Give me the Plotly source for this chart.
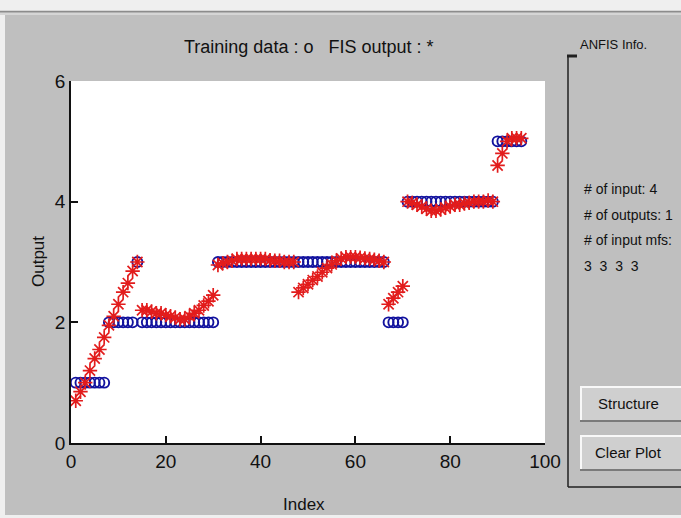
import plotly.graph_objects as go

# ---- data ----
index = list(range(1, 96))
training = ([1] * 7 + [2] * 6 + [3] * 1 + [2] * 16 + [3] * 36 + [2] * 4 + [4] * 19 + [5] * 6)
fis_output = [
    0.70, 0.85, 1.00, 1.20, 1.40, 1.55, 1.75, 1.95, 2.10, 2.30, 2.50, 2.65, 2.85, 3.00,
    2.20, 2.20, 2.18, 2.15, 2.15, 2.12, 2.10, 2.08, 2.05, 2.05, 2.10, 2.15, 2.20, 2.28, 2.35, 2.45,
    2.95, 2.98, 3.00, 3.02, 3.05, 3.05, 3.05, 3.05, 3.05, 3.05, 3.05, 3.03, 3.02, 3.02, 3.00, 3.00, 3.00,
    2.50, 2.57, 2.63, 2.70, 2.76, 2.83, 2.90, 2.96, 3.02, 3.06,
    3.08, 3.08, 3.08, 3.07, 3.06, 3.05, 3.04, 3.02, 3.00,
    2.30, 2.40, 2.50, 2.60,
    4.00, 3.98, 3.95, 3.92, 3.88, 3.85, 3.85, 3.87, 3.90, 3.92, 3.95, 3.95, 3.97, 3.98, 4.00, 4.00, 4.00, 4.02, 4.00,
    4.60, 4.80, 5.00, 5.05, 5.05, 5.05,
]
x_ticks = [0, 20, 40, 60, 80, 100]
y_ticks = [0, 2, 4, 6]
info_lines = ["# of input: 4", "# of outputs: 1", "# of input mfs:", "3  3  3  3"]
buttons = ["Structure", "Clear Plot"]

W, H = 681, 518
L, R, T, B = 71, 545, 81, 443
FONT = "Liberation Sans, Arial, sans-serif"
GRAY = "#bfbfbf"


def px(xp):
    return (xp - L) / (R - L)


def py(yp):
    return (B - yp) / (B - T)


fig = go.Figure()
fig.add_trace(go.Scatter(
    x=index, y=training, mode="markers", name="Training data",
    marker=dict(symbol="circle-open", size=10, color="#12129e", line=dict(width=1.9, color="#12129e")),
))
fig.add_trace(go.Scatter(
    x=index, y=fis_output, mode="markers", name="FIS output",
    marker=dict(symbol="asterisk-open", size=12, color="#e21c1c", line=dict(width=1.7, color="#e21c1c")),
))

shapes = []
# top light strip and separator
shapes.append(dict(type="rect", xref="paper", yref="paper", x0=px(0), x1=px(W), y0=py(12), y1=py(0),
                   fillcolor="#efefef", line=dict(width=0), layer="below"))
shapes.append(dict(type="line", xref="paper", yref="paper", x0=px(0), x1=px(W), y0=py(11.5), y1=py(11.5),
                   line=dict(color="#8c8c8c", width=1.5)))
shapes.append(dict(type="line", xref="paper", yref="paper", x0=px(0), x1=px(W), y0=py(14), y1=py(14),
                   line=dict(color="#dcdcdc", width=1.5)))
shapes.append(dict(type="rect", xref="paper", yref="paper", x0=px(0), x1=px(5), y0=py(H), y1=py(15),
                   fillcolor="#efefef", line=dict(width=0), layer="below"))
shapes.append(dict(type="rect", xref="paper", yref="paper", x0=px(0), x1=px(W), y0=py(H), y1=py(515),
                   fillcolor="#efefef", line=dict(width=0), layer="below"))
# ANFIS info frame
shapes.append(dict(type="line", xref="paper", yref="paper", x0=px(568), x1=px(568), y0=py(56), y1=py(487),
                   line=dict(color="#202020", width=1.5)))
shapes.append(dict(type="line", xref="paper", yref="paper", x0=px(567), x1=px(577), y0=py(56), y1=py(56),
                   line=dict(color="#202020", width=3)))
shapes.append(dict(type="line", xref="paper", yref="paper", x0=px(568), x1=px(W), y0=py(487), y1=py(487),
                   line=dict(color="#202020", width=1.5)))
# buttons
for (top, bot) in [(386, 421), (435, 470)]:
    shapes.append(dict(type="rect", xref="paper", yref="paper", x0=px(580), x1=px(W + 5), y0=py(bot), y1=py(top),
                       fillcolor="#cfcfcf", line=dict(width=0)))
    shapes.append(dict(type="line", xref="paper", yref="paper", x0=px(580), x1=px(W), y0=py(top + 1), y1=py(top + 1),
                       line=dict(color="#f8f8f8", width=2)))
    shapes.append(dict(type="line", xref="paper", yref="paper", x0=px(581), x1=px(581), y0=py(bot), y1=py(top),
                       line=dict(color="#f8f8f8", width=2)))
    shapes.append(dict(type="line", xref="paper", yref="paper", x0=px(580), x1=px(W), y0=py(bot), y1=py(bot),
                       line=dict(color="#7a7a7a", width=2)))

annotations = []
annotations.append(dict(text="Training data : o   FIS output : *", xref="paper", yref="paper",
                        x=px(308), y=py(47), showarrow=False, xanchor="center", yanchor="middle",
                        font=dict(family=FONT, size=18, color="#111")))
annotations.append(dict(text="ANFIS Info.", xref="paper", yref="paper", x=px(578), y=py(44),
                        showarrow=False, xanchor="left", yanchor="middle",
                        font=dict(family=FONT, size=13, color="#111")))
for i, line in enumerate(info_lines):
    annotations.append(dict(text=line, xref="paper", yref="paper", x=px(582), y=py(189 + 25.5 * i),
                            showarrow=False, xanchor="left", yanchor="middle",
                            font=dict(family=FONT, size=14, color="#111")))
for lbl, yc in zip(buttons, [403, 452]):
    annotations.append(dict(text=lbl, xref="paper", yref="paper", x=px(628), y=py(yc),
                            showarrow=False, xanchor="center", yanchor="middle",
                            font=dict(family=FONT, size=15, color="#111")))
annotations.append(dict(text="Output", xref="paper", yref="paper", x=px(38), y=py(262),
                        showarrow=False, textangle=-90, xanchor="center", yanchor="middle",
                        font=dict(family=FONT, size=17, color="#111")))
annotations.append(dict(text="Index", xref="paper", yref="paper", x=px(304), y=py(504),
                        showarrow=False, xanchor="center", yanchor="middle",
                        font=dict(family=FONT, size=17, color="#111")))

fig.update_layout(
    width=W, height=H,
    margin=dict(l=L, r=W - R, t=T, b=H - B, pad=0),
    paper_bgcolor=GRAY, plot_bgcolor="white",
    showlegend=False,
    shapes=shapes, annotations=annotations,
    xaxis=dict(range=[0, 100], tickvals=x_ticks, ticks="inside", ticklen=7, tickwidth=1.5, tickcolor="#111",
               showline=True, linecolor="#111", linewidth=1.5, showgrid=False, zeroline=False, mirror=False,
               tickfont=dict(family=FONT, size=19, color="#111"), fixedrange=True),
    yaxis=dict(range=[0, 6], tickvals=y_ticks, ticks="inside", ticklen=7, tickwidth=1.5, tickcolor="#111",
               showline=True, linecolor="#111", linewidth=1.5, showgrid=False, zeroline=False, mirror=False,
               tickfont=dict(family=FONT, size=19, color="#111"), fixedrange=True),
)

fig.write_html("out.html")
